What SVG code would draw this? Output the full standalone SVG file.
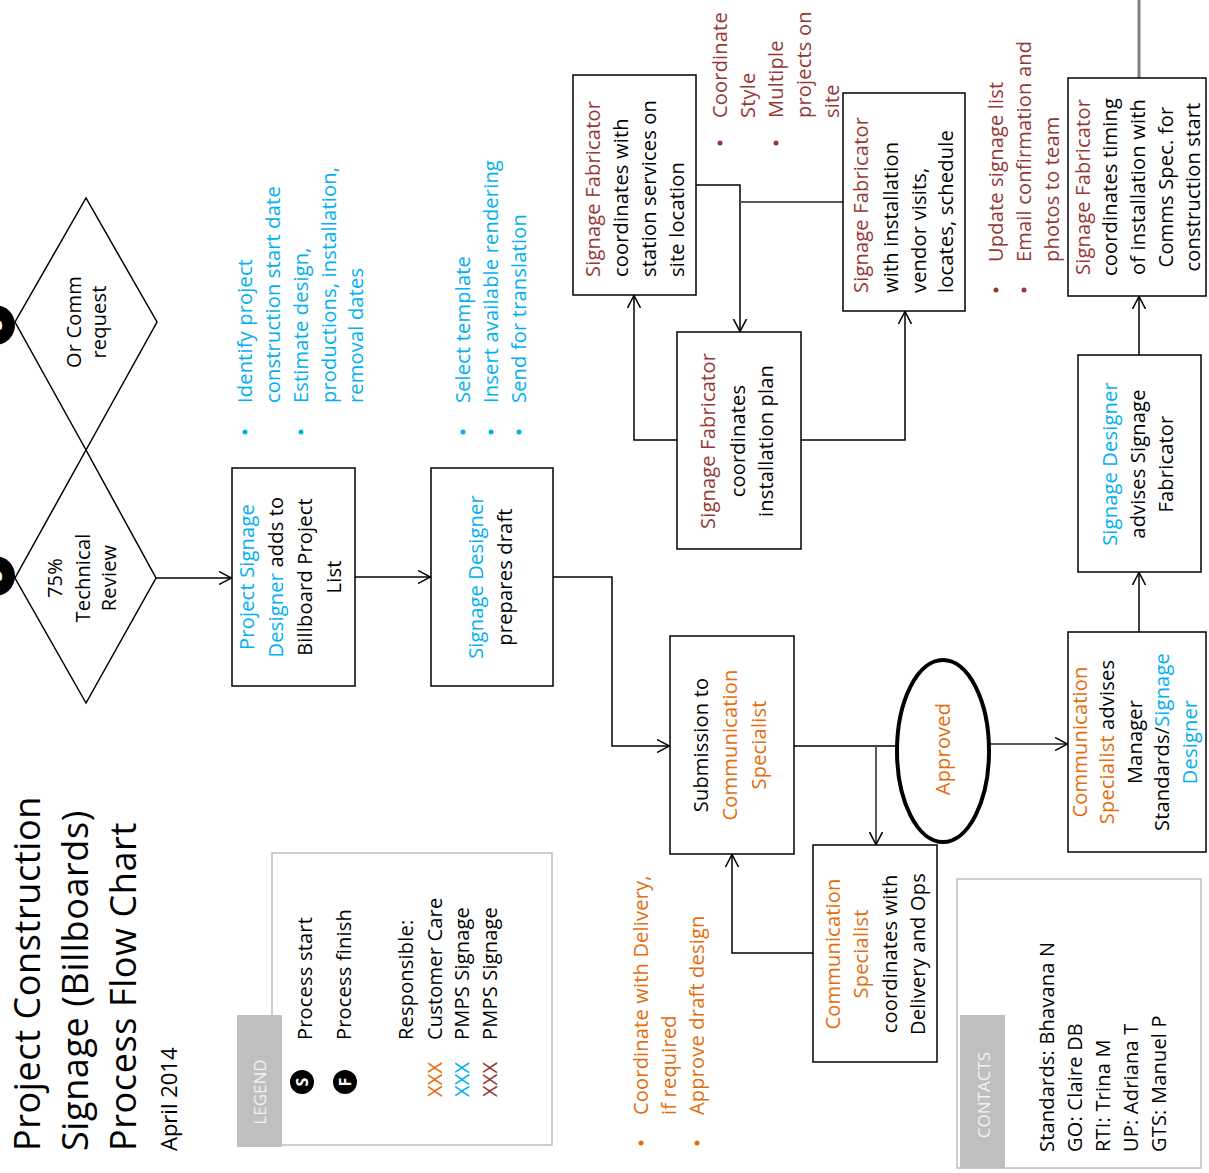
<svg xmlns="http://www.w3.org/2000/svg" width="1209" height="1173" viewBox="0 0 1209 1173">
<style>
.t{font-family:"Open Sans","Noto Sans","DejaVu Sans",sans-serif;font-size:20px;letter-spacing:0.2px;fill:#000}
.ttl{font-family:"Open Sans","Noto Sans","DejaVu Sans",sans-serif;font-size:36px;letter-spacing:0.6px;fill:#000}
.date{font-family:"Open Sans","Noto Sans","DejaVu Sans",sans-serif;font-size:22px;fill:#000}
.m{text-anchor:middle}
.c{fill:#00b0f0}.o{fill:#e46c0a}.r{fill:#953735}
.box{fill:#fff;stroke:#000;stroke-width:1.5}
.ln{fill:none;stroke:#000;stroke-width:1.5}
.gl{fill:none;stroke:#595959;stroke-width:2}
.tab{fill:#bfbfbf}
.frame{fill:none;stroke:#bfbfbf;stroke-width:1.5}
.tabt{font-family:"Open Sans","Noto Sans",sans-serif;font-size:17px;fill:#f2f2f2;text-anchor:middle}
.dotc{fill:#00b0f0}.doto{fill:#e46c0a}.dotr{fill:#953735}
.sym{font-family:"Open Sans","Noto Sans",sans-serif;font-weight:bold;fill:#fff;text-anchor:middle}
</style>
<defs>
<marker id="ah" viewBox="0 0 13 14" refX="13" refY="7" markerWidth="13" markerHeight="14" markerUnits="userSpaceOnUse" orient="auto">
<path d="M0,0.5 L12.5,7 L0,13.5" fill="none" stroke="#000" stroke-width="1.5"/>
</marker>
</defs>
<rect x="0" y="0" width="1209" height="1173" fill="#fff"/>
<g transform="translate(0,1173) rotate(-90)">

<g id="title">
<text class="ttl" x="22" y="40">Project Construction</text>
<text class="ttl" x="22" y="88">Signage (Billboards)</text>
<text class="ttl" x="22" y="136">Process Flow Chart</text>
<text class="date" x="22" y="177">April 2014</text>
</g>

<g id="legend">
<rect class="frame" x="28" y="272" width="292" height="280"/>
<rect class="tab" x="26" y="237" width="132" height="45"/>
<text class="tabt" x="81" y="266">LEGEND</text>
<circle cx="91" cy="302" r="12" fill="#000"/>
<text class="sym" x="91" y="308" font-size="16">S</text>
<circle cx="91" cy="345" r="12" fill="#000"/>
<text class="sym" x="91" y="351" font-size="16">F</text>
<text class="t" x="133" y="312">Process start</text>
<text class="t" x="133" y="351">Process finish</text>
<text class="t" x="133" y="413">Responsible:</text>
<text class="t" x="133" y="442">Customer Care</text>
<text class="t" x="133" y="469">PMPS Signage</text>
<text class="t" x="133" y="497">PMPS Signage</text>
<text class="t o" x="76" y="442">XXX</text>
<text class="t c" x="76" y="469">XXX</text>
<text class="t r" x="76" y="497">XXX</text>
</g>

<g id="contacts">
<rect class="frame" x="5" y="957" width="289" height="244"/>
<rect class="tab" x="5" y="960" width="153" height="45"/>
<text class="tabt" x="78" y="990">CONTACTS</text>
<text class="t" x="21" y="1054">Standards: Bhavana N</text>
<text class="t" x="21" y="1082">GO: Claire DB</text>
<text class="t" x="21" y="1110">RTI: Trina M</text>
<text class="t" x="21" y="1138">UP: Adriana T</text>
<text class="t" x="21" y="1166">GTS: Manuel P</text>
</g>

<g id="start1">
<circle cx="848" cy="-5" r="20" fill="#000"/>
<text class="sym" x="848" y="2" font-size="20">S</text>
</g>
<g id="start2">
<circle cx="597" cy="-5" r="20" fill="#000"/>
<text class="sym" x="597" y="2" font-size="20">S</text>
</g>

<g id="d-comm">
<polygon class="box" points="723,86 851,15 975,86 851,157"/>
<text class="t m" x="851" y="81">Or Comm</text>
<text class="t m" x="851" y="106">request</text>
</g>
<g id="d-review">
<polygon class="box" points="470,86 595,15 723,86 595,156"/>
<text class="t m" x="595" y="62">75%</text>
<text class="t m" x="595" y="90">Technical</text>
<text class="t m" x="595" y="116">Review</text>
</g>

<g id="connectors">
<line class="ln" x1="595" y1="156" x2="595" y2="232" marker-end="url(#ah)"/>
<line class="ln" x1="596" y1="355" x2="596" y2="431" marker-end="url(#ah)"/>
<polyline class="ln" points="596,553 596,612 427,612 427,670" marker-end="url(#ah)"/>
<line class="ln" x1="427" y1="794" x2="427" y2="897"/>
<line class="gl" x1="427" y1="876" x2="328" y2="876" marker-end="url(#ah)"/>
<line class="gl" x1="429" y1="990" x2="429" y2="1068" marker-end="url(#ah)"/>
<polyline class="ln" points="220,813 220,732 319,732" marker-end="url(#ah)"/>
<line class="ln" x1="541" y1="1139" x2="601" y2="1139" marker-end="url(#ah)"/>
<line class="ln" x1="818" y1="1139" x2="877" y2="1139" marker-end="url(#ah)"/>
<line x1="1095" y1="1139" x2="1173" y2="1139" stroke="#7f7f7f" stroke-width="3"/>
<polyline class="ln" points="988,696 988,740 841,740" marker-end="url(#ah)"/>
<line class="gl" x1="971" y1="740" x2="971" y2="843"/>
<polyline class="ln" points="733,677 733,634 878,634" marker-end="url(#ah)"/>
<polyline class="ln" points="733,801 733,905 862,905" marker-end="url(#ah)"/>
</g>

<g id="n-psd">
<rect class="box" x="487" y="232" width="218" height="123"/>
<text class="t m" x="596" y="254"><tspan class="c">Project Signage</tspan></text>
<text class="t m" x="596" y="283"><tspan class="c">Designer</tspan> adds to</text>
<text class="t m" x="596" y="312">Billboard Project</text>
<text class="t m" x="596" y="341">List</text>
</g>
<g id="n-sd-draft">
<rect class="box" x="487" y="431" width="218" height="122"/>
<text class="t m c" x="596" y="483">Signage Designer</text>
<text class="t m" x="596" y="512">prepares draft</text>
</g>
<g id="n-submission">
<rect class="box" x="319" y="670" width="218" height="124"/>
<text class="t m" x="428" y="708">Submission to</text>
<text class="t m o" x="428" y="737">Communication</text>
<text class="t m o" x="428" y="766">Specialist</text>
</g>
<g id="n-approved">
<ellipse cx="422" cy="943" rx="91" ry="46" fill="#fff" stroke="#000" stroke-width="4"/>
<text class="t m o" x="424" y="950">Approved</text>
</g>
<g id="n-cs-delivery">
<rect class="box" x="111" y="813" width="217" height="124"/>
<text class="t m o" x="219" y="840">Communication</text>
<text class="t m o" x="219" y="868">Specialist</text>
<text class="t m" x="219" y="897">coordinates with</text>
<text class="t m" x="219" y="925">Delivery and Ops</text>
</g>
<g id="n-cs-advises">
<rect class="box" x="321" y="1068" width="220" height="138"/>
<text class="t m o" x="431" y="1087">Communication</text>
<text class="t m" x="431" y="1114"><tspan class="o">Specialist</tspan> advises</text>
<text class="t m" x="431" y="1142">Manager</text>
<text class="t m" x="431" y="1169">Standards/<tspan class="c">Signage</tspan></text>
<text class="t m c" x="431" y="1197">Designer</text>
</g>
<g id="n-sd-advises">
<rect class="box" x="601" y="1078" width="217" height="123"/>
<text class="t m c" x="709" y="1117">Signage Designer</text>
<text class="t m" x="709" y="1145">advises Signage</text>
<text class="t m" x="709" y="1173">Fabricator</text>
</g>
<g id="n-sf-timing">
<rect class="box" x="877" y="1068" width="218" height="138"/>
<text class="t m r" x="986" y="1090">Signage Fabricator</text>
<text class="t m" x="986" y="1117">coordinates timing</text>
<text class="t m" x="986" y="1145">of installation with</text>
<text class="t m" x="986" y="1173">Comms Spec. for</text>
<text class="t m" x="986" y="1200">construction start</text>
</g>
<g id="n-sf-vendor">
<rect class="box" x="862" y="843" width="218" height="122"/>
<text class="t r" x="880" y="868">Signage Fabricator</text>
<text class="t" x="880" y="898">with installation</text>
<text class="t" x="880" y="926">vendor visits,</text>
<text class="t" x="880" y="953">locates, schedule</text>
</g>
<g id="n-sf-station">
<rect class="box" x="878" y="573" width="220" height="123"/>
<text class="t r" x="896" y="600">Signage Fabricator</text>
<text class="t" x="896" y="628">coordinates with</text>
<text class="t" x="896" y="656">station services on</text>
<text class="t" x="896" y="684">site location</text>
</g>
<g id="n-sf-plan">
<rect class="box" x="624" y="677" width="217" height="124"/>
<text class="t m r" x="732" y="715">Signage Fabricator</text>
<text class="t m" x="732" y="745">coordinates</text>
<text class="t m" x="732" y="773">installation plan</text>
</g>

<g id="notes-psd">
<circle class="dotc" cx="741" cy="245" r="2.5"/>
<circle class="dotc" cx="741" cy="301" r="2.5"/>
<text class="t c" x="770" y="252">Identify project</text>
<text class="t c" x="770" y="280">construction start date</text>
<text class="t c" x="770" y="308">Estimate design,</text>
<text class="t c" x="770" y="336">productions, installation,</text>
<text class="t c" x="770" y="363">removal dates</text>
</g>
<g id="notes-draft">
<circle class="dotc" cx="741" cy="463" r="2.5"/>
<circle class="dotc" cx="741" cy="491" r="2.5"/>
<circle class="dotc" cx="741" cy="519" r="2.5"/>
<text class="t c" x="770" y="470">Select template</text>
<text class="t c" x="770" y="498">Insert available rendering</text>
<text class="t c" x="770" y="526">Send for translation</text>
</g>
<g id="notes-submission">
<circle class="doto" cx="30" cy="641" r="2.5"/>
<circle class="doto" cx="30" cy="697" r="2.5"/>
<text class="t o" x="58" y="648">Coordinate with Delivery,</text>
<text class="t o" x="58" y="676">if required</text>
<text class="t o" x="58" y="704">Approve draft design</text>
</g>
<g id="notes-station">
<circle class="dotr" cx="1030" cy="720" r="2.5"/>
<circle class="dotr" cx="1030" cy="776" r="2.5"/>
<text class="t r" x="1055" y="727">Coordinate</text>
<text class="t r" x="1055" y="755">Style</text>
<text class="t r" x="1055" y="783">Multiple</text>
<text class="t r" x="1055" y="811">projects on</text>
<text class="t r" x="1055" y="839">site</text>
</g>
<g id="notes-timing">
<circle class="dotr" cx="883" cy="996" r="2.5"/>
<circle class="dotr" cx="883" cy="1024" r="2.5"/>
<text class="t r" x="911" y="1003">Update signage list</text>
<text class="t r" x="911" y="1031">Email confirmation and</text>
<text class="t r" x="911" y="1059">photos to team</text>
</g>

</g>
</svg>
